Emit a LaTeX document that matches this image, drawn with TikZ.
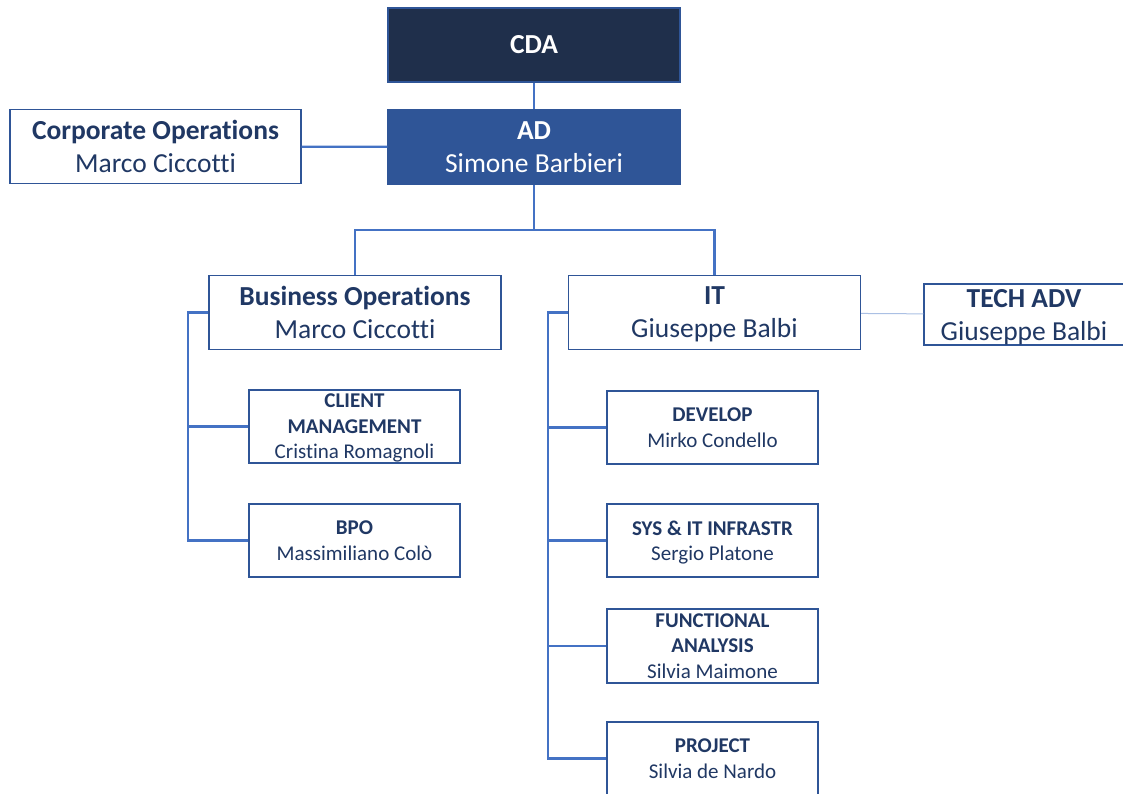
\documentclass[tikz,border=0pt]{standalone}
\usepackage{fontspec}
\setmainfont{Carlito}[Ligatures=NoCommon]
\usepackage{tikz}
\definecolor{cdanavy}{HTML}{1F2F4B}
\definecolor{adblue}{HTML}{2F5597}
\definecolor{linkblue}{HTML}{4472C4}
\definecolor{textnavy}{HTML}{203864}

\begin{document}
\begin{tikzpicture}[x=1pt,y=-1pt,
  head/.style={rectangle,draw=adblue,line width=1.3pt,fill=white,text=textnavy,
    minimum width=292pt,minimum height=74pt,inner sep=0pt,align=center,
    font=\fontsize{27.5}{33}\selectfont},
  unit/.style={rectangle,draw=adblue,line width=1.3pt,fill=white,text=textnavy,
    minimum width=211pt,minimum height=73pt,inner sep=0pt,align=center,
    font=\fontsize{21}{25.5}\selectfont},
  link/.style={draw=linkblue,line width=2.2pt}]

\useasboundingbox (0,0) rectangle (1123,793);

% top of the chart
\node[head,fill=cdanavy,draw=adblue,text=white] (cda) at (534,45) {\textbf{CDA}};
\node[head,fill=adblue,text=white] (ad) at (534,147) {\textbf{AD}\\Simone Barbieri};
\node[head,minimum width=291pt] (corp) at (155.5,146.5) {\textbf{Corporate Operations}\\Marco Ciccotti};

% second level
\node[head] (bizops) at (355,312.5) {\textbf{Business Operations}\\Marco Ciccotti};
\node[head] (it) at (714.5,312.5) {\textbf{IT}\\\smash{Giuseppe Balbi}};
\node[head,minimum width=200pt,minimum height=61pt] (techadv) at (1024,314.5) {\textbf{TECH ADV}\\\smash{Giuseppe Balbi}};

% units
\node[unit] (client) at (354.5,426.5) {\textbf{CLIENT}\\\textbf{MANAGEMENT}\\\smash{Cristina Romagnoli}};
\node[unit] (bpo) at (354.5,540.5) {\textbf{BPO}\\Massimiliano Colò};
\node[unit] (develop) at (712.5,427.5) {\textbf{DEVELOP}\\Mirko Condello};
\node[unit] (sysinfra) at (712.5,540.5) {\textbf{SYS \& IT INFRASTR}\\\smash{Sergio Platone}};
\node[unit,minimum height=74pt] (funcan) at (712.5,646) {\textbf{FUNCTIONAL}\\\textbf{ANALYSIS}\\Silvia Maimone};
\node[unit] (project) at (712.5,758.5) {\textbf{PROJECT}\\Silvia de Nardo};

\coordinate (split) at (534,230);
\coordinate (bizbar) at (188,312.5);
\coordinate (itbar) at (548,312.5);

\draw[link] (cda) -- (ad);
\draw[link] (corp) -- (ad);
\draw[link] (ad) -- (split) -| (bizops);
\draw[link] (split) -| (it);
\draw[draw=linkblue!45,line width=1pt] (it) -- (techadv);

\draw[link] (bizops) -- (bizbar) |- (bpo);
\draw[link] (bizbar) |- (client);

\draw[link] (it) -- (itbar) |- (project);
\foreach \n in {develop,sysinfra,funcan}
  \draw[link] (itbar) |- (\n);
\end{tikzpicture}
\end{document}
